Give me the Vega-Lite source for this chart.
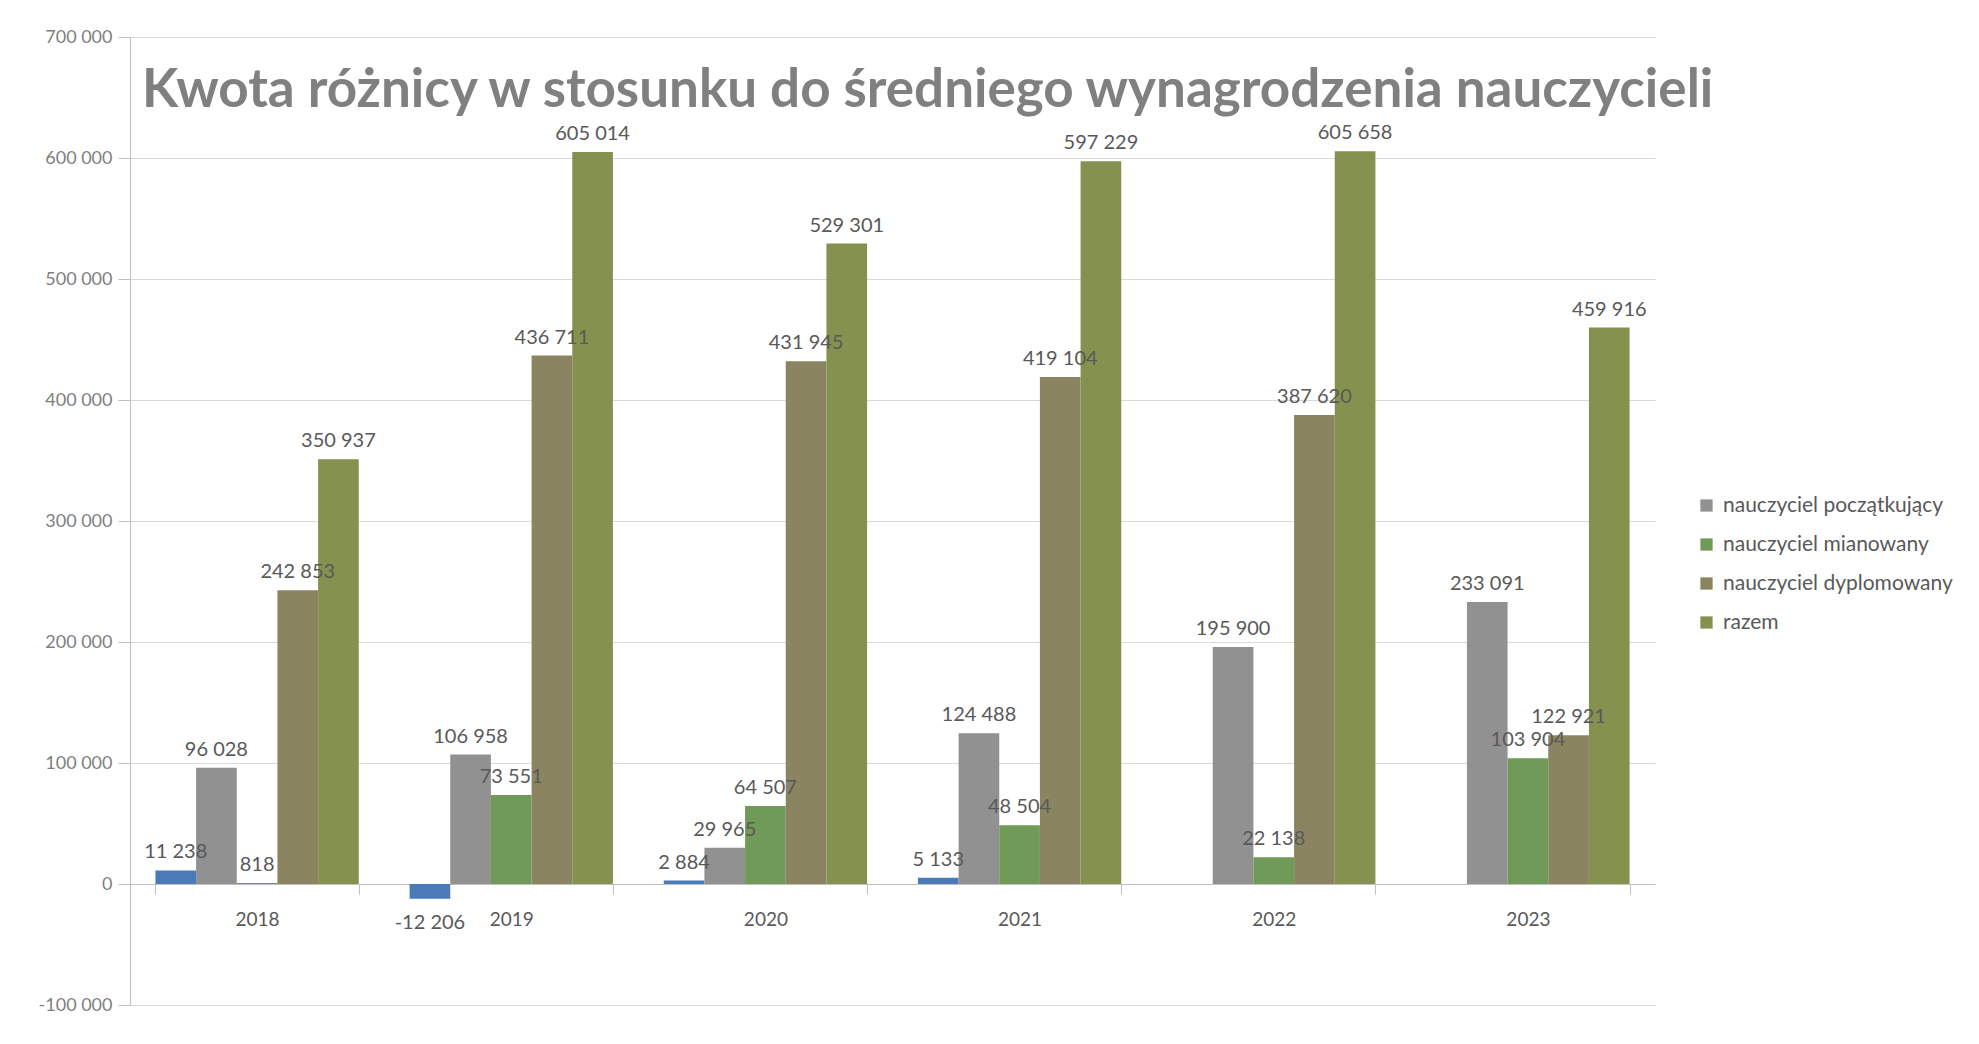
{
  "$schema": "https://vega.github.io/schema/vega-lite/v6.json",
  "width": 1525,
  "height": 968,
  "padding": {"left": 38, "top": 28, "right": 5, "bottom": 5},
  "background": "white",
  "config": {
    "locale": {"number": {"decimal": ",", "thousands": " ", "grouping": [3], "currency": ["", ""], "minus": "-"}},
    "view": {"stroke": null},
    "font": "Lato"
  },
  "title": {
    "text": "Kwota różnicy w stosunku do średniego wynagrodzenia nauczycieli",
    "anchor": "start",
    "frame": "group",
    "offset": -90,
    "dx": 12,
    "fontSize": 53,
    "fontWeight": "bold",
    "color": "#808080",
    "font": "Lato"
  },
  "data": {
    "values": [
      {"rok": "2018", "seria": "nauczyciel stażysta", "wartosc": 11238},
      {"rok": "2018", "seria": "nauczyciel początkujący", "wartosc": 96028},
      {"rok": "2018", "seria": "nauczyciel mianowany", "wartosc": 818},
      {"rok": "2018", "seria": "nauczyciel dyplomowany", "wartosc": 242853},
      {"rok": "2018", "seria": "razem", "wartosc": 350937},
      {"rok": "2019", "seria": "nauczyciel stażysta", "wartosc": -12206},
      {"rok": "2019", "seria": "nauczyciel początkujący", "wartosc": 106958},
      {"rok": "2019", "seria": "nauczyciel mianowany", "wartosc": 73551},
      {"rok": "2019", "seria": "nauczyciel dyplomowany", "wartosc": 436711},
      {"rok": "2019", "seria": "razem", "wartosc": 605014},
      {"rok": "2020", "seria": "nauczyciel stażysta", "wartosc": 2884},
      {"rok": "2020", "seria": "nauczyciel początkujący", "wartosc": 29965},
      {"rok": "2020", "seria": "nauczyciel mianowany", "wartosc": 64507},
      {"rok": "2020", "seria": "nauczyciel dyplomowany", "wartosc": 431945},
      {"rok": "2020", "seria": "razem", "wartosc": 529301},
      {"rok": "2021", "seria": "nauczyciel stażysta", "wartosc": 5133},
      {"rok": "2021", "seria": "nauczyciel początkujący", "wartosc": 124488},
      {"rok": "2021", "seria": "nauczyciel mianowany", "wartosc": 48504},
      {"rok": "2021", "seria": "nauczyciel dyplomowany", "wartosc": 419104},
      {"rok": "2021", "seria": "razem", "wartosc": 597229},
      {"rok": "2022", "seria": "nauczyciel początkujący", "wartosc": 195900},
      {"rok": "2022", "seria": "nauczyciel mianowany", "wartosc": 22138},
      {"rok": "2022", "seria": "nauczyciel dyplomowany", "wartosc": 387620},
      {"rok": "2022", "seria": "razem", "wartosc": 605658},
      {"rok": "2023", "seria": "nauczyciel początkujący", "wartosc": 233091},
      {"rok": "2023", "seria": "nauczyciel mianowany", "wartosc": 103904},
      {"rok": "2023", "seria": "nauczyciel dyplomowany", "wartosc": 122921},
      {"rok": "2023", "seria": "razem", "wartosc": 459916}
    ]
  },
  "encoding": {
    "x": {
      "field": "rok",
      "type": "nominal",
      "scale": {"paddingInner": 0.2, "paddingOuter": 0.1},
      "axis": {
        "orient": "bottom",
        "offset": -121,
        "title": null,
        "labelAngle": 0,
        "labelFontSize": 19,
        "labelColor": "#595959",
        "labelPadding": 16,
        "domainColor": "#bfbfbf",
        "tickColor": "#bfbfbf",
        "tickSize": 10,
        "tickBand": "extent",
        "grid": false
      }
    },
    "xOffset": {
      "field": "seria",
      "type": "nominal",
      "scale": {"domain": ["nauczyciel stażysta", "nauczyciel początkujący", "nauczyciel mianowany", "nauczyciel dyplomowany", "razem"]}
    },
    "y": {
      "field": "wartosc",
      "type": "quantitative",
      "scale": {"domain": [-100000, 700000], "nice": false},
      "axis": {
        "title": null,
        "values": [-100000, 0, 100000, 200000, 300000, 400000, 500000, 600000, 700000],
        "format": ",d",
        "labelFontSize": 18,
        "labelColor": "#7f7f7f",
        "labelPadding": 6,
        "grid": true,
        "gridColor": "#d9d9d9",
        "domain": true,
        "domainColor": "#bfbfbf",
        "tickColor": "#bfbfbf",
        "tickSize": 12
      }
    }
  },
  "layer": [
    {
      "mark": {"type": "bar"},
      "encoding": {
        "color": {
          "field": "seria",
          "type": "nominal",
          "scale": {
            "domain": ["nauczyciel stażysta", "nauczyciel początkujący", "nauczyciel mianowany", "nauczyciel dyplomowany", "razem"],
            "range": ["#4a7ab8", "#919191", "#6f9a57", "#8a8560", "#85914f"]
          },
          "legend": {
            "values": ["nauczyciel początkujący", "nauczyciel mianowany", "nauczyciel dyplomowany", "razem"],
            "orient": "none",
            "legendX": 1566,
            "legendY": 458,
            "title": null,
            "labelFontSize": 21,
            "labelLimit": 0,
            "labelColor": "#595959",
            "symbolType": "square",
            "symbolSize": 150,
            "symbolStrokeWidth": 0,
            "rowPadding": 17,
            "labelOffset": 6
          }
        }
      }
    },
    {
      "transform": [{"filter": "datum.wartosc >= 0"}],
      "mark": {"type": "text", "baseline": "bottom", "dy": -8, "fontSize": 20, "color": "#595959"},
      "encoding": {"text": {"field": "wartosc", "type": "quantitative", "format": ",d"}}
    },
    {
      "transform": [{"filter": "datum.wartosc < 0"}],
      "mark": {"type": "text", "baseline": "top", "dy": 14, "fontSize": 20, "color": "#595959"},
      "encoding": {"text": {"field": "wartosc", "type": "quantitative", "format": ",d"}}
    }
  ]
}
